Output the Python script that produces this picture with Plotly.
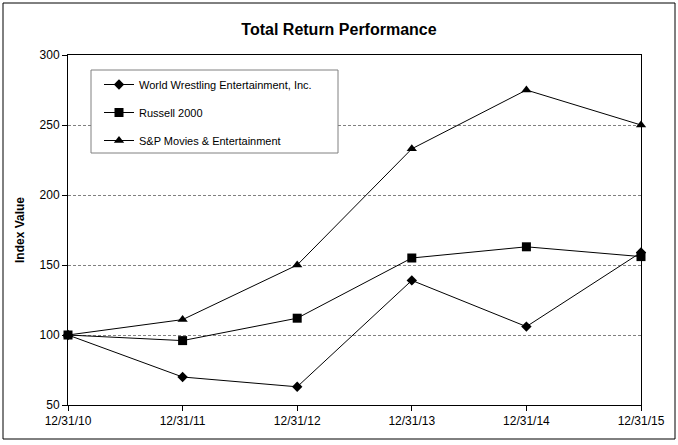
import plotly.graph_objects as go

categories = ["12/31/10", "12/31/11", "12/31/12", "12/31/13", "12/31/14", "12/31/15"]
wwe = [100, 70, 63, 139, 106, 159]
russell = [100, 96, 112, 155, 163, 156]
sp_movies = [100, 111, 150, 233, 275, 250]
series_names = ["World Wrestling Entertainment, Inc.", "Russell 2000", "S&P Movies & Entertainment"]
y_ticks = [50, 100, 150, 200, 250, 300]

W, H = 678, 445
L, R, T, B = 68, 37, 55, 40
PW, PH = W - L - R, H - T - B


def px_x(px):
    return (px - L) / PW


def px_y(py):
    return (H - B - py) / PH


fig = go.Figure()
specs = [(wwe, "diamond", 8), (russell, "square", 9), (sp_movies, "triangle-up", 9)]
for i, (vals, sym, sz) in enumerate(specs):
    fig.add_trace(go.Scatter(
        x=categories, y=vals, mode="lines+markers", name=series_names[i],
        legendgroup=f"g{i}",
        line=dict(color="black", width=1),
        marker=dict(symbol=sym, size=sz, color="black"),
        cliponaxis=False,
    ))

fig.update_layout(
    width=W, height=H,
    margin=dict(l=L, r=R, t=T, b=B),
    paper_bgcolor="white", plot_bgcolor="white",
    font=dict(family="Liberation Sans, Arial, sans-serif", size=11, color="black"),
    title=dict(text="<b>Total Return Performance</b>", x=0.5, xanchor="center",
               y=1 - 29 / H, yanchor="middle", font=dict(size=16)),
    showlegend=True,
    legend=dict(x=px_x(99), y=px_y(70), xanchor="left", yanchor="top",
                borderwidth=0, bgcolor="rgba(0,0,0,0)",
                tracegroupgap=9, traceorder="grouped",
                font=dict(size=11)),
    xaxis=dict(type="category", range=[0, 5], showline=True, mirror=True,
               linecolor="black", linewidth=1, ticks="outside", ticklen=5,
               tickcolor="black", showgrid=False, zeroline=False,
               tickfont=dict(size=12)),
    yaxis=dict(range=[50, 300], tickvals=y_ticks, showline=True, mirror=True,
               linecolor="black", linewidth=1, ticks="outside", ticklen=5,
               tickcolor="black", showgrid=True, gridcolor="#808080",
               griddash="3px,2px", gridwidth=1, zeroline=False,
               title=dict(text="<b>Index Value</b>", font=dict(size=12), standoff=12),
               tickfont=dict(size=12)),
    shapes=[
        dict(type="rect", xref="paper", yref="paper",
             x0=px_x(3), x1=px_x(675), y0=px_y(439), y1=px_y(3),
             line=dict(color="black", width=1), fillcolor="rgba(0,0,0,0)", layer="below"),
        dict(type="rect", xref="paper", yref="paper",
             x0=px_x(91), x1=px_x(338), y0=px_y(153), y1=px_y(70),
             line=dict(color="#808080", width=1), fillcolor="white", layer="above"),
    ],
)

fig.write_html("out.html", config={"displayModeBar": False},
               post_script="document.body.style.margin='0';")
